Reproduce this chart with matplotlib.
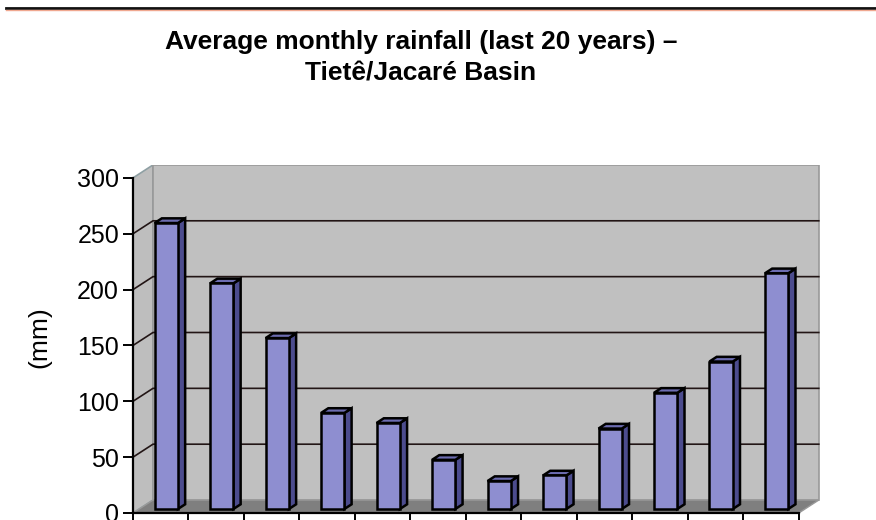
import numpy as np
import matplotlib.pyplot as plt
from matplotlib.patches import Polygon

# Monthly rainfall averages, Tietê/Jacaré basin (mm)
months = ['Jan', 'Feb', 'Mar', 'Apr', 'May', 'Jun',
          'Jul', 'Aug', 'Sep', 'Oct', 'Nov', 'Dec']
rainfall = [256, 202, 153, 86, 77, 44, 25, 30, 72, 104, 132, 211]
y_ticks = [0, 50, 100, 150, 200, 250, 300]

plt.rcParams['font.family'] = ['Liberation Sans', 'DejaVu Sans']

# 3D look: offset of the back wall and of the bar faces, in data units
wall_dx, wall_dy = 0.36, 11.6
bar_dx, bar_dy = 0.10, 3.6
depth_dx, depth_dy = 0.13, 4.2
bar_w = 0.42
y_max = 300

front_col = '#8e8ed0'
side_col = '#4c4c8e'
top_col = '#6c6cb0'
wall_col = '#c0c0c0'
floor_col = '#7f7f7f'
grid_col = '#221515'

fig = plt.figure(figsize=(8.76, 5.2), dpi=100)
W, H = 876, 520
ax = fig.add_axes([133 / W, 7 / H, 688 / W, 348.5 / H])
ax.set_xlim(0, 12.4)
ax.set_ylim(0, y_max + 12)
ax.patch.set_alpha(0)

n = len(months)

# walls and floor
left_wall = Polygon([(0, 0), (0, y_max), (wall_dx, y_max + wall_dy), (wall_dx, wall_dy)],
                    closed=True, facecolor='#bebebe', edgecolor='#8fa0a4', lw=1.2, zorder=0)
back_wall = Polygon([(wall_dx, wall_dy), (wall_dx, y_max + wall_dy),
                     (n + wall_dx, y_max + wall_dy), (n + wall_dx, wall_dy)],
                    closed=True, facecolor=wall_col, edgecolor='#999999', lw=1.2, zorder=0)
ax.add_patch(left_wall)
ax.add_patch(back_wall)

# gridlines on the left and back walls
for v in y_ticks[1:-1]:
    ax.plot([0, wall_dx, n + wall_dx], [v, v + wall_dy, v + wall_dy],
            color=grid_col, lw=1.2, zorder=1)

floor = Polygon([(0, 0), (n, 0), (n + wall_dx, wall_dy), (wall_dx, wall_dy)],
                closed=True, facecolor=floor_col, edgecolor='#999999', lw=1.0, zorder=2)
ax.add_patch(floor)

# bars as front, side and top faces
for i, val in enumerate(rainfall):
    x0 = i + 0.5 + bar_dx - bar_w / 2
    x1 = x0 + bar_w
    b = bar_dy
    t = bar_dy + val
    front = Polygon([(x0, b), (x1, b), (x1, t), (x0, t)], closed=True,
                    facecolor=front_col, edgecolor='black', lw=1.8, zorder=3)
    side = Polygon([(x1, b), (x1 + depth_dx, b + depth_dy),
                    (x1 + depth_dx, t + depth_dy), (x1, t)], closed=True,
                   facecolor=side_col, edgecolor='black', lw=1.8, zorder=3)
    top = Polygon([(x0, t), (x1, t), (x1 + depth_dx, t + depth_dy),
                   (x0 + depth_dx, t + depth_dy)], closed=True,
                  facecolor=top_col, edgecolor='black', lw=1.8, zorder=3)
    for p in (side, top, front):
        ax.add_patch(p)

# axes lines and ticks
for s in ('top', 'right'):
    ax.spines[s].set_visible(False)
ax.spines['left'].set_bounds(0, y_max)
ax.spines['bottom'].set_bounds(0, n)
for s in ('left', 'bottom'):
    ax.spines[s].set_linewidth(1.6)
    ax.spines[s].set_zorder(5)
ax.set_yticks(y_ticks)
ax.set_xticks(np.arange(n + 1))
ax.set_xticklabels([])
ax.tick_params(axis='y', direction='out', length=7, width=1.4, labelsize=18, pad=3)
ax.tick_params(axis='x', direction='out', length=8, width=1.4)

fig.text(39 / W, 1 - 337 / H, '(mm)', rotation=90, ha='center', va='center', fontsize=19)

fig.text(421 / W, 1 - 30 / H, 'Average monthly rainfall (last 20 years) –\nTietê/Jacaré Basin',
         ha='center', va='top', fontsize=19, fontweight='bold', linespacing=1.4)

# rule across the top
fig.add_artist(plt.Line2D([6 / W, 1], [1 - 8 / H, 1 - 8 / H], color='#111111', lw=2))
fig.add_artist(plt.Line2D([6 / W, 1], [1 - 10 / H, 1 - 10 / H], color='#f0a890', lw=1))

fig.savefig('out.png', dpi=100, facecolor='white')
